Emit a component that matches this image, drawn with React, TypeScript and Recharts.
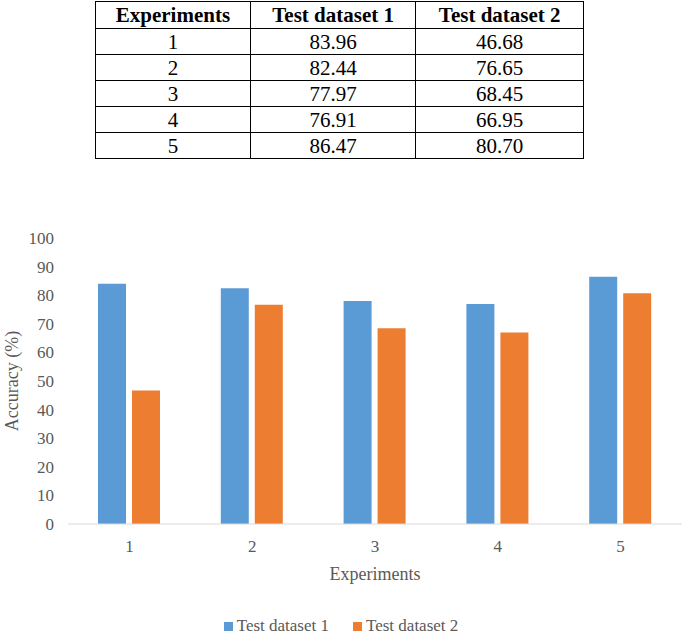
import React from 'react';
import { BarChart, Bar, XAxis, YAxis, Legend } from 'recharts';

const experiments = ['1', '2', '3', '4', '5'];
const testDataset1 = [83.96, 82.44, 77.97, 76.91, 86.47];
const testDataset2 = [46.68, 76.65, 68.45, 66.95, 80.7];
const yTicks = [0, 10, 20, 30, 40, 50, 60, 70, 80, 90, 100];
const tableHeaders = ['Experiments', 'Test dataset 1', 'Test dataset 2'];

const SERIF = 'Liberation Serif';
const BLUE = '#5B9BD5';
const ORANGE = '#ED7D31';
const GREY = '#595959';

const chartData = experiments.map((name, i) => ({
  name,
  d1: testDataset1[i],
  d2: testDataset2[i],
}));

const cellStyle: React.CSSProperties = {
  border: '1px solid #000',
  textAlign: 'center',
  padding: 0,
  fontSize: 21,
  lineHeight: '24px',
};

const ResultsTable = () => (
  <table
    style={{
      position: 'absolute',
      left: 95,
      top: 1,
      width: 489,
      borderCollapse: 'collapse',
      fontFamily: SERIF,
      color: '#000',
    }}
  >
    <colgroup>
      <col style={{ width: 155 }} />
      <col style={{ width: 166 }} />
      <col style={{ width: 168 }} />
    </colgroup>
    <thead>
      <tr style={{ height: 27 }}>
        {tableHeaders.map(h => (
          <th key={h} style={{ ...cellStyle, fontWeight: 'bold' }}>{h}</th>
        ))}
      </tr>
    </thead>
    <tbody>
      {experiments.map((e, i) => (
        <tr key={e} style={{ height: 26 }}>
          <td style={cellStyle}>{e}</td>
          <td style={cellStyle}>{testDataset1[i].toFixed(2)}</td>
          <td style={cellStyle}>{testDataset2[i].toFixed(2)}</td>
        </tr>
      ))}
    </tbody>
  </table>
);

const LegendContent = ({ payload }: any) => (
  <div style={{ display: 'flex', justifyContent: 'center', height: 20, alignItems: 'center', fontFamily: SERIF }}>
    {(payload || []).map((entry: any, i: number) => (
      <div key={i} style={{ display: 'flex', alignItems: 'center', marginRight: i === 0 ? 24 : 0 }}>
        <span style={{ width: 9, height: 9, background: entry.color, marginRight: 4, display: 'inline-block' }} />
        <span style={{ fontSize: 17, color: GREY }}>{entry.value}</span>
      </div>
    ))}
  </div>
);

const App = () => (
  <div style={{ position: 'absolute', left: 0, top: 0, width: 682, height: 634, background: '#fff', overflow: 'hidden', fontFamily: SERIF }}>
    <ResultsTable />
    <div style={{ position: 'absolute', left: 0, top: 200 }}>
      <BarChart
        width={682}
        height={436}
        data={chartData}
        margin={{ top: 38, right: 0, left: 0, bottom: 0 }}
        barSize={28}
        barGap={6}
        style={{ fontFamily: SERIF }}
      >
        <XAxis
          dataKey="name"
          tickLine={false}
          axisLine={{ stroke: '#D9D9D9' }}
          tickMargin={10}
          height={92}
          tick={{ fill: GREY, fontSize: 17, fontFamily: SERIF }}
          label={{ value: 'Experiments', position: 'insideBottom', offset: 36, fill: GREY, fontSize: 18, fontFamily: SERIF }}
        />
        <YAxis
          domain={[0, 100]}
          ticks={yTicks}
          width={68}
          axisLine={false}
          tickLine={false}
          tickMargin={8}
          tick={{ fill: GREY, fontSize: 17, fontFamily: SERIF }}
          label={{ value: 'Accuracy (%)', angle: -90, position: 'insideLeft', offset: 12, fill: GREY, fontSize: 18, fontFamily: SERIF, style: { textAnchor: 'middle' } }}
        />
        <Legend verticalAlign="bottom" height={20} content={<LegendContent />} />
        <Bar dataKey="d1" name="Test dataset 1" fill={BLUE} isAnimationActive={false} />
        <Bar dataKey="d2" name="Test dataset 2" fill={ORANGE} isAnimationActive={false} />
      </BarChart>
    </div>
  </div>
);

export default App;
